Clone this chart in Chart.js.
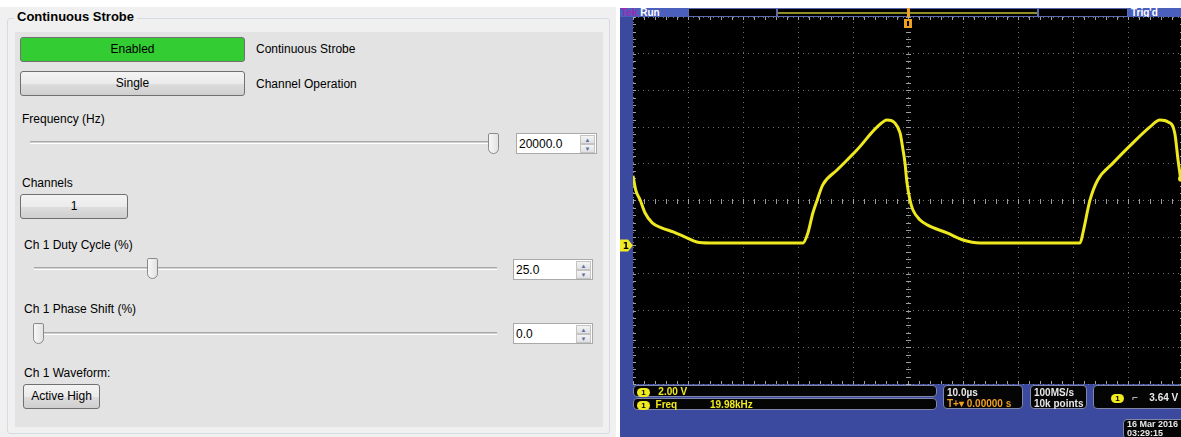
<!DOCTYPE html>
<html>
<head>
<meta charset="utf-8">
<title>Continuous Strobe</title>
<script src="https://cdn.jsdelivr.net/npm/chart.js@4.4.1/dist/chart.umd.min.js"></script>
<style>
  html, body { margin: 0; padding: 0; width: 1181px; height: 437px; overflow: hidden; background: #fff; }
  body { position: relative; font-family: "Liberation Sans", Arial, sans-serif; font-size: 12px; color: #000; }
  .abs { position: absolute; }
  #panelBg { left: 0; top: 7px; width: 616px; height: 430px; background: #f0f0f0; }
  #group { left: 7px; top: 18px; width: 603px; height: 416px; border: 1px solid #d5dbe3; border-radius: 3px; box-sizing: border-box; }
  #inner { left: 15px; top: 32px; width: 588px; height: 395px; background: #e3e3e3; }
  #groupTitle { left: 14px; top: 9px; padding: 0 3px; background: #f0f0f0; font-weight: bold; font-size: 13px; line-height: 16px; }
  .btn { box-sizing: border-box; border: 1px solid #707070; border-radius: 3px; text-align: center;
         background: linear-gradient(#f3f3f3 0%, #ebebeb 50%, #dddddd 51%, #cfcfcf 100%); }
  .btn.green { background: #33cc33; }
  .lbl { white-space: nowrap; line-height: 14px; }
  .track { height: 3px; box-sizing: border-box; border-top: 1px solid #a8a8a8; border-bottom: 1px solid #fff; background: #d0d0d0; }
  .thumb { width: 11px; height: 21px; box-sizing: border-box; border: 1px solid #8a8a8a; border-radius: 2px 2px 6px 6px;
           background: linear-gradient(90deg, #f7f7f7, #e2e2e2); }
  .spin { height: 21px; box-sizing: border-box; border: 1px solid #a9a9a9; background: #fff; }
  .spin span { position: absolute; left: 2px; top: 3px; font-size: 12px; }
  .spin i { position: absolute; right: 1px; width: 15px; height: 9px; box-sizing: border-box; border: 1px solid #c4c4c4;
            background: linear-gradient(#f4f4f4, #e0e0e0); font-style: normal; font-size: 6px; color: #5d6fa0; text-align: center; line-height: 8px; }
  #scope { left: 620px; top: 8px; width: 563px; height: 429px; background: #3b4a9e; }
  #scopeChart { position: absolute; left: 0; top: 0; }
  .tek { font-family: "Liberation Sans", Arial, sans-serif; font-weight: bold; font-size: 10px; line-height: 11px; white-space: nowrap; }
  .box { box-sizing: border-box; background: #050505; border: 1px solid #7f86a8; border-radius: 4px; }
  .chip { display: inline-block; width: 13px; height: 9px; border-radius: 5px; background: #f0ea20; color: #000;
          font-size: 8px; line-height: 9px; text-align: center; vertical-align: 0px; }
</style>
</head>
<body>

<div class="abs" id="panelBg"></div>
<div class="abs" id="group"></div>
<div class="abs" id="inner"></div>
<div class="abs" id="groupTitle">Continuous Strobe</div>

<div class="abs btn green" style="left:20px;top:37px;width:225px;height:25px;line-height:23px;">Enabled</div>
<div class="abs lbl" style="left:256px;top:42px;">Continuous Strobe</div>
<div class="abs btn" style="left:20px;top:71px;width:225px;height:25px;line-height:23px;">Single</div>
<div class="abs lbl" style="left:256px;top:77px;">Channel Operation</div>

<div class="abs lbl" style="left:22px;top:112px;">Frequency (Hz)</div>
<div class="abs track" style="left:30px;top:141px;width:466px;"></div>
<div class="abs thumb" style="left:488px;top:133px;"></div>
<div class="abs spin" style="left:516px;top:133px;width:81px;"><span>20000.0</span><i style="top:1px">&#9650;</i><i style="top:10px">&#9660;</i></div>

<div class="abs lbl" style="left:22px;top:176px;">Channels</div>
<div class="abs btn" style="left:20px;top:194px;width:108px;height:25px;line-height:23px;">1</div>

<div class="abs lbl" style="left:24px;top:238px;">Ch 1 Duty Cycle (%)</div>
<div class="abs track" style="left:34px;top:267px;width:463px;"></div>
<div class="abs thumb" style="left:147px;top:258px;"></div>
<div class="abs spin" style="left:513px;top:259px;width:80px;"><span>25.0</span><i style="top:1px">&#9650;</i><i style="top:10px">&#9660;</i></div>

<div class="abs lbl" style="left:24px;top:302px;">Ch 1 Phase Shift (%)</div>
<div class="abs track" style="left:34px;top:332px;width:463px;"></div>
<div class="abs thumb" style="left:33px;top:323px;"></div>
<div class="abs spin" style="left:513px;top:323px;width:80px;"><span>0.0</span><i style="top:1px">&#9650;</i><i style="top:10px">&#9660;</i></div>

<div class="abs lbl" style="left:24px;top:366px;">Ch 1 Waveform:</div>
<div class="abs btn" style="left:23px;top:384px;width:77px;height:25px;line-height:23px;">Active High</div>

<div class="abs" id="scope">
  <!-- top status bar -->
  <div class="abs tek" style="left:0;top:0;width:68px;height:9px;background:#4b5fbd;line-height:9px;padding-left:1px;"><span style="color:#a12ab0">Tek</span> <span style="color:#fff">Run</span></div>
  <div class="abs" style="left:68px;top:0;width:89px;height:9px;background:#000;border:1px solid #5a6ab0;box-sizing:border-box;"></div>
  <div class="abs" style="left:157px;top:0;width:261px;height:9px;background:#000;border:1px solid #5a6ab0;box-sizing:border-box;">
    <div class="abs" style="left:0;top:3px;width:259px;height:2px;background:#8f8f25;"></div>
  </div>
  <div class="abs" style="left:418px;top:0;width:90px;height:9px;background:#000;border:1px solid #5a6ab0;box-sizing:border-box;"></div>
  <div class="abs tek" style="left:508px;top:0;width:55px;height:9px;background:#4b5fbd;color:#fff;line-height:9px;padding-left:3px;box-sizing:border-box;">Trig'd</div>

  <canvas id="scopeChart" width="563" height="429"></canvas>

  <!-- readouts -->
  <div class="abs box tek" style="left:13px;top:377px;width:304px;height:12px;color:#f0ea20;padding-left:3px;"><span class="chip">1</span>&nbsp;&nbsp; 2.00 V</div>
  <div class="abs box tek" style="left:13px;top:390px;width:304px;height:12px;color:#f0ea20;padding-left:3px;"><span class="chip">1</span>&nbsp; Freq<span class="abs" style="left:76px;top:0;">19.98kHz</span></div>
  <div class="abs box tek" style="left:323px;top:377px;width:80px;height:24px;color:#e8e8e8;padding:1px 0 0 3px;">10.0µs<br><span style="color:#f0a020">T+▾ 0.00000 s</span></div>
  <div class="abs box tek" style="left:410px;top:377px;width:57px;height:24px;color:#e8e8e8;padding:1px 0 0 3px;">100MS/s<br>10k points</div>
  <div class="abs box tek" style="left:473px;top:377px;width:95px;height:24px;color:#e8e8e8;padding:6px 0 0 17px;"><span class="chip">1</span>&nbsp;&nbsp; ⌐&nbsp;&nbsp;&nbsp; 3.64 V</div>
  <div class="abs box tek" style="left:503px;top:411px;width:65px;height:20px;color:#e8e8e8;padding:0 0 0 3px;line-height:9px;font-size:9px;">16 Mar 2016<br>03:29:15</div>
</div>

<script>
// Ch1 trace: time (µs, 0 = trigger) and volts
const timeUs = [-50.0, -49.5, -48.7, -47.8, -46.5, -44.7, -42.7, -40.5, -38.4, -36.0,
                -19.1, -18.2, -17.3, -16.5, -15.5, -12.9, -9.3, -5.6, -3.8, -2.4,
                -1.45, -0.9, -0.55, -0.18, 0.36, 0.9, 2.2, 3.5, 7.1, 10.0,
                13.1, 31.3, 31.8, 33.1, 34.5, 37.3, 40.9, 44.0, 45.8, 47.3,
                48.5, 49.1, 49.6];
const ch1Volts = [3.8, 3.02, 2.48, 1.77, 1.23, 0.95, 0.74, 0.46, 0.19, 0.14,
                  0.14, 0.68, 1.77, 2.48, 3.30, 4.11, 5.20, 6.46, 6.84, 6.68,
                  6.13, 5.20, 4.50, 3.41, 2.48, 1.93, 1.39, 1.12, 0.68, 0.30,
                  0.14, 0.14, 0.68, 2.48, 3.57, 4.50, 5.59, 6.46, 6.84, 6.73,
                  6.13, 4.66, 3.57];

// graticule: 10 divisions each way, 10 µs/div and 2 V/div
const timeTicks = [-50, -40, -30, -20, -10, 0, 10, 20, 30, 40, 50];
const voltTicks = [-7.55, -5.55, -3.55, -1.55, 0.45, 2.45, 4.45, 6.45, 8.45, 10.45, 12.45];
const triggerLevel = 3.64;

const yellow = 'rgb(238, 232, 30)';
const gridGrey = 'rgba(150,150,150,0.75)';

const scopeDecor = {
    id: 'scopeDecor',
    beforeDraw(chart) {
        const a = chart.chartArea;
        const ctx = chart.ctx;
        ctx.save();
        ctx.fillStyle = '#000';
        ctx.fillRect(a.left, a.top, a.right - a.left, a.bottom - a.top);
        ctx.restore();
    },
    beforeDatasetsDraw(chart) {
        const a = chart.chartArea;
        const ctx = chart.ctx;
        const x = chart.scales.x;
        const y = chart.scales.y;
        const cx = Math.round(x.getPixelForValue(0));
        const cy = Math.round(y.getPixelForValue(2.45));
        ctx.save();
        ctx.fillStyle = 'rgba(175,175,175,0.9)';
        // minor ticks every 1/5 division on the centre cross and the edges
        for (let t = -50; t <= 50; t += 2) {
            const px = Math.round(x.getPixelForValue(t));
            ctx.fillRect(px, cy - 2, 1, 5);
            ctx.fillRect(px, a.top, 1, 3);
            ctx.fillRect(px, a.bottom - 3, 1, 3);
        }
        for (let v = -7.55; v <= 12.46; v += 0.4) {
            const py = Math.round(y.getPixelForValue(v));
            ctx.fillRect(cx - 2, py, 5, 1);
            ctx.fillRect(a.left, py, 3, 1);
            ctx.fillRect(a.right - 3, py, 3, 1);
        }
        ctx.restore();
    },
    afterDraw(chart) {
        const a = chart.chartArea;
        const ctx = chart.ctx;
        const x = chart.scales.x;
        const y = chart.scales.y;
        ctx.save();
        // trigger position marker
        const tx = x.getPixelForValue(0);
        ctx.fillStyle = '#f0a020';
        ctx.fillRect(tx - 1, 0, 3, 9);
        ctx.fillRect(tx - 4, a.top + 2, 8, 9);
        ctx.fillStyle = '#000';
        ctx.fillRect(tx - 1, a.top + 4, 2, 5);
        // ch1 ground marker
        const gy = y.getPixelForValue(0);
        ctx.fillStyle = '#f0ea20';
        ctx.beginPath();
        ctx.moveTo(a.left - 13, gy - 6);
        ctx.lineTo(a.left - 5, gy - 6);
        ctx.lineTo(a.left, gy);
        ctx.lineTo(a.left - 5, gy + 6);
        ctx.lineTo(a.left - 13, gy + 6);
        ctx.closePath();
        ctx.fill();
        ctx.fillStyle = '#000';
        ctx.font = 'bold 9px "DejaVu Sans"';
        ctx.textAlign = 'center';
        ctx.textBaseline = 'middle';
        ctx.fillText('1', a.left - 7, gy + 1);
        // trigger level marker at the right edge
        const ly = y.getPixelForValue(triggerLevel);
        ctx.fillStyle = '#f0ea20';
        ctx.beginPath();
        ctx.arc(561, ly, 3, 0, Math.PI * 2);
        ctx.fill();
        ctx.restore();
    }
};

new Chart(document.getElementById('scopeChart'), {
    type: 'line',
    data: {
        datasets: [{
            label: 'Ch 1',
            data: timeUs.map((t, i) => ({ x: t, y: ch1Volts[i] })),
            borderColor: yellow,
            borderWidth: 3,
            pointRadius: 0,
            fill: false,
            cubicInterpolationMode: 'monotone'
        }]
    },
    options: {
        responsive: false,
        animation: false,
        layout: { padding: { left: 13, top: 9, right: 0, bottom: 53 } },
        plugins: { legend: { display: false }, tooltip: { enabled: false } },
        scales: {
            x: {
                type: 'linear',
                min: -50,
                max: 50,
                afterBuildTicks: scale => { scale.ticks = timeTicks.map(v => ({ value: v })); },
                ticks: { display: false },
                border: { display: false, dash: [1, 4] },
                grid: { color: gridGrey, drawTicks: false }
            },
            y: {
                type: 'linear',
                min: -7.55,
                max: 12.45,
                afterBuildTicks: scale => { scale.ticks = voltTicks.map(v => ({ value: v })); },
                ticks: { display: false },
                border: { display: false, dash: [1, 4] },
                grid: { color: gridGrey, drawTicks: false }
            }
        }
    },
    plugins: [scopeDecor]
});
</script>
</body>
</html>
